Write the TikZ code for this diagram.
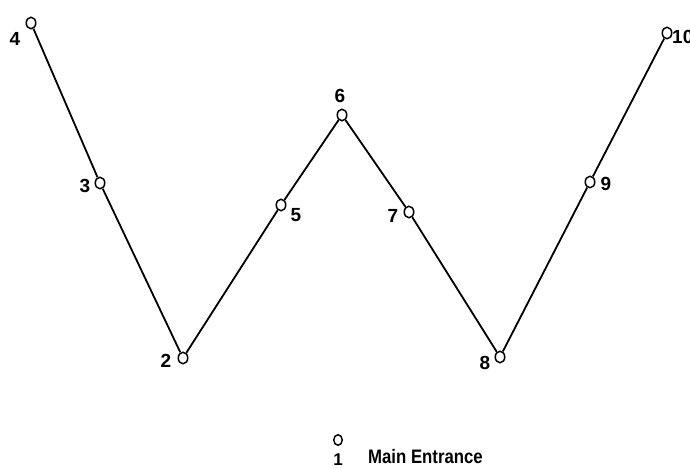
\documentclass[tikz,border=0pt]{standalone}
\usepackage{fontspec}
\setmainfont{Liberation Sans}
\newfontfamily\labfont{Liberation Sans}[FakeStretch=0.86]
\usetikzlibrary{shapes.geometric}
\begin{document}
\begin{tikzpicture}[x=1pt,y=-1pt,
  pt/.style={ellipse,draw,line width=1.5pt,minimum width=9.5pt,minimum height=11.5pt,inner sep=0pt},
  lab/.style={font=\fontsize{19}{19}\selectfont\bfseries,inner sep=0pt},
  edge/.style={line width=1.8pt}]
\useasboundingbox (0,0) rectangle (690,468);
\node[pt] (p4) at (31,23) {};
\node[pt] (p3) at (100,183) {};
\node[pt] (p2) at (183,358) {};
\node[pt] (p5) at (281,205) {};
\node[pt] (p6) at (342,115) {};
\node[pt] (p7) at (409,212) {};
\node[pt] (p8) at (500,357) {};
\node[pt] (p9) at (590,182) {};
\node[pt] (p10) at (667,33) {};
\node[pt,minimum width=8.5pt,minimum height=10.5pt] (p1) at (338,440) {};
\draw[edge] (p4) -- (p3);
\draw[edge] (p3) -- (p2);
\draw[edge] (p2) -- (p5);
\draw[edge] (p5) -- (p6);
\draw[edge] (p6) -- (p7);
\draw[edge] (p7) -- (p8);
\draw[edge] (p8) -- (p9);
\draw[edge] (p9) -- (p10);
\node[lab] (l4) at (15,39) {4};
\node[lab] (l3) at (85,186) {3};
\node[lab] (l2) at (166,361) {2};
\node[lab] (l5) at (296,215) {5};
\node[lab] (l6) at (340,96) {6};
\node[lab] (l7) at (393,216) {7};
\node[lab] (l8) at (485,363) {8};
\node[lab] (l9) at (606,184) {9};
\node[lab,anchor=west] (l10) at (672,37) {10};
\node[lab,font=\fontsize{17}{17}\selectfont\bfseries] (l1) at (338,460) {1};
\node[anchor=base west,inner sep=0pt,font=\labfont\fontsize{19.5}{19.5}\selectfont\bfseries] (me) at (368,463) {Main Entrance};
\end{tikzpicture}
\end{document}
